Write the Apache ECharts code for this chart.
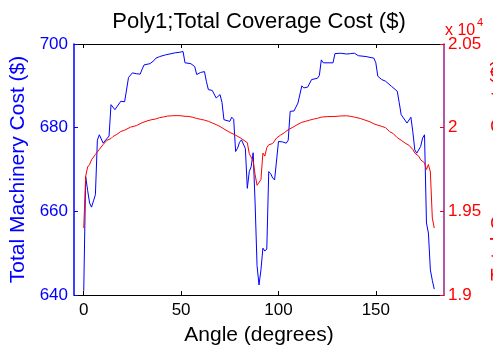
<!DOCTYPE html>
<html>
<head>
<meta charset="utf-8">
<script src="https://cdn.jsdelivr.net/npm/echarts@6/dist/echarts.min.js"></script>
<style>html,body{margin:0;padding:0;background:#fff;}#c{width:493px;height:354px;}</style>
</head>
<body>
<div id="c"></div>
<script>
var titleText = 'Poly1;Total Coverage Cost ($)';
var xName = 'Angle (degrees)';
var leftName = 'Total Machinery Cost ($)';
var rightName = 'Total Coverage Cost ($)';
var xTicks = [0, 50, 100, 150];

var machAngles = [0,1,2,3,4,5,6,7,8,9,10,11,13,14,16,19,21,22,23,25,27,29,30,31,34,36,37,39,40,42,43,47,49,51,52,55,57,58,60,61,62,63,64,66,68,70,71,72,75,76,77,78,79,80,81,82,83,84,85,86,87,88,89,90,91,92,93,94,95,96,97,98,99,100,102,104,105,106,107,108,110,112,113,115,116,117,120,121,122,123,128,129,132,135,137,139,141,145,149,150,151,153,155,158,161,162,163,164,166,168,169,170,171,172,173,174,175,176,177,178,179,180];
var machCost = [641,668.3,665,662,661,662.5,664,677,678.3,677.3,676.3,676.5,678,685.5,684.3,686.3,686.2,686.5,692,693.1,692.9,692.8,694,695,695.3,696,696.6,697,696.6,697.4,697.8,697.9,698,698.2,695.5,695.3,694.6,692.7,693.2,693.4,693.4,691,689.1,688.9,687.1,687.9,686,681.9,681.5,682.5,682,674.3,675.1,676.5,677.1,677,675,665.5,669.5,670.7,674,662,647,642.4,646,651.2,650.5,651,669.5,669,668,667.5,667.3,676.7,676.6,676.3,677,683.9,683.5,684,685.9,690,689.5,689.7,690,691.5,691.8,692.5,696.2,695.5,695.5,697.7,697.8,697.6,697.7,697.8,697.2,697,696.6,695.5,692.3,691.5,691.1,689.9,688.7,686,683.1,683,681.1,682.5,679,674.7,673.9,673.7,675.5,677.5,678.3,657.2,654.8,646,643.5,641.4];

var covAngles = [0,1,2,3,4,5,6,7,8,9,10,12,14,15,17,19,21,22,24,25,27,28,30,31,33,35,37,39,41,43,45,48,50,52,54,56,58,60,62,64,66,68,70,72,73,75,76,78,79,81,82,84,85,86,87,88,89,90,91,92,93,94,95,96,97,99,101,103,105,107,108,110,112,114,116,118,120,122,125,129,132,135,137,139,142,144,147,149,151,153,155,157,159,161,163,165,167,168,169,170,171,172,173,174,175,176,177,178,179,180];
var covCost = [19400,19710,19765,19780,19808,19805,19840,19855,19870,19880,19900,19925,19935,19947,19960,19977,19985,19991,20003,20007,20012,20017,20030,20037,20042,20048,20052,20060,20064,20069,20071,20072,20071,20068,20067,20062,20055,20050,20045,20038,20028,20018,20007,19992,19983,19972,19968,19955,19947,19935,19932,19910,19845,19838,19800,19720,19655,19648,19690,19848,19830,19880,19898,19892,19905,19938,19955,19970,19988,20000,20011,20020,20032,20038,20045,20051,20056,20063,20066,20067,20070,20071,20068,20063,20055,20047,20035,20023,20015,20008,20000,19977,19964,19940,19925,19908,19895,19888,19870,19848,19845,19830,19808,19815,19790,19750,19780,19735,19460,19400];

var machData = machAngles.map(function (a, i) { return [a, machCost[i]]; });
var covData = covAngles.map(function (a, i) { return [a, covCost[i]]; });

var FONT = 'Liberation Sans, Arial, sans-serif';
var chart = echarts.init(document.getElementById('c'), null, {renderer: 'canvas'});
chart.setOption({
  animation: false,
  backgroundColor: '#ffffff',
  grid: {left: 74, right: 49, top: 44, bottom: 59, containLabel: false, outerBoundsMode: 'none'},
  xAxis: [{
    type: 'value', min: -5, max: 185, position: 'bottom',
    name: xName, nameLocation: 'middle', nameGap: 30,
    nameTextStyle: {fontFamily: FONT, fontSize: 21, color: '#000'},
    axisLine: {show: true, onZero: false, lineStyle: {color: '#000', width: 1}},
    axisTick: {show: true, inside: true, length: 4, customValues: xTicks, lineStyle: {color: '#000'}},
    axisLabel: {show: true, margin: 7, customValues: xTicks, fontFamily: FONT, fontSize: 17, color: '#000'},
    splitLine: {show: false}
  }, {
    type: 'value', min: -5, max: 185, position: 'top',
    axisLine: {show: true, onZero: false, lineStyle: {color: '#000', width: 1}},
    axisTick: {show: true, inside: true, length: 4, customValues: xTicks, lineStyle: {color: '#000'}},
    axisLabel: {show: false},
    splitLine: {show: false}
  }],
  yAxis: [{
    type: 'value', min: 640, max: 700, interval: 20, position: 'left',
    name: leftName, nameLocation: 'middle', nameGap: 44, nameRotate: 90,
    nameTextStyle: {fontFamily: FONT, fontSize: 21, color: '#0000ff'},
    axisLine: {show: true, onZero: false, lineStyle: {color: '#0000ff', width: 1.5}},
    axisTick: {show: true, inside: true, length: 4, lineStyle: {color: '#0000ff'}},
    axisLabel: {margin: 6, fontFamily: FONT, fontSize: 17, color: '#0000ff'},
    splitLine: {show: false}
  }, {
    type: 'value', min: 19000, max: 20500, interval: 500, position: 'right',
    axisLine: {show: true, onZero: false, lineStyle: {color: '#9a1e8c', width: 1.5}},
    axisTick: {show: true, inside: true, length: 4, lineStyle: {color: '#ff0000'}},
    axisLabel: {margin: 4, fontFamily: FONT, fontSize: 17, color: '#ff0000',
      formatter: function (v) { return String(v / 10000); }},
    splitLine: {show: false}
  }],
  graphic: [
    {type: 'text', x: 259, y: 11, style: {text: titleText, textAlign: 'center', fontFamily: FONT, fontSize: 22, fill: '#000'}},
    {type: 'text', x: 445, y: 23, style: {text: 'x 10', fontFamily: FONT, fontSize: 16, fill: '#ff0000'}},
    {type: 'text', x: 477, y: 17, style: {text: '4', fontFamily: FONT, fontSize: 11, fill: '#ff0000'}},
    {type: 'text', x: 499, y: 170, rotation: Math.PI / 2,
      style: {text: rightName, textAlign: 'center', textVerticalAlign: 'middle', fontFamily: FONT, fontSize: 21, fill: '#ff0000'}}
  ],
  series: [{
    type: 'line', xAxisIndex: 0, yAxisIndex: 0, data: machData,
    showSymbol: false, symbol: 'none',
    lineStyle: {color: '#0000ff', width: 1}
  }, {
    type: 'line', xAxisIndex: 0, yAxisIndex: 1, data: covData,
    showSymbol: false, symbol: 'none',
    lineStyle: {color: '#ff0000', width: 1}
  }]
});
</script>
</body>
</html>
